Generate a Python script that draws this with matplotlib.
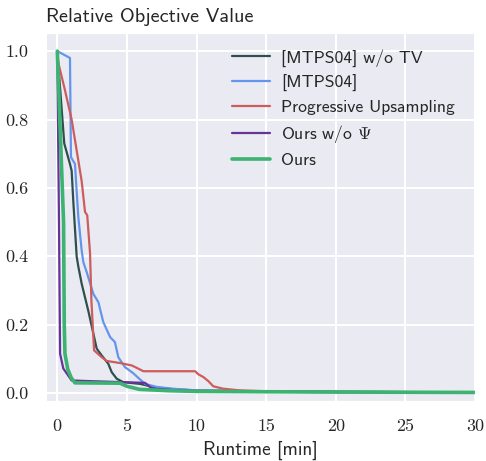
import matplotlib
matplotlib.use("Agg")
import matplotlib.pyplot as plt
import seaborn as sns

# runtime [min] / relative objective value per method
t_mtps_notv = [0, 0.5, 0.91, 1.03, 1.15, 1.39, 1.51, 1.75, 2.23, 2.59, 2.83, 3.19, 3.66,
               3.91, 4.27, 4.74, 5.94, 6.9, 8.3, 10, 15, 20, 30]
v_mtps_notv = [1.0, 0.73, 0.67, 0.65, 0.56, 0.40, 0.37, 0.32, 0.24, 0.174, 0.13, 0.11, 0.086,
               0.061, 0.042, 0.032, 0.027, 0.018, 0.011, 0.008, 0.005, 0.004, 0.002]

t_mtps = [0, 0.91, 0.98, 1.27, 1.39, 1.51, 1.75, 1.87, 2.11, 2.59, 2.95, 3.3, 3.79, 4.14,
          4.38, 4.86, 5.46, 5.94, 6.3, 7.14, 8.3, 10, 15, 20, 30]
v_mtps = [1.0, 0.98, 0.69, 0.67, 0.59, 0.515, 0.417, 0.383, 0.354, 0.29, 0.266, 0.208, 0.164,
          0.149, 0.105, 0.076, 0.058, 0.04, 0.027, 0.018, 0.013, 0.008, 0.005, 0.004, 0.002]

t_prog = [0.03, 0.55, 1.03, 1.51, 1.75, 1.99, 2.15, 2.35, 2.45, 2.64, 3.19, 3.55, 4.5, 5.34,
          5.7, 6.18, 9.9, 10.13, 10.49, 10.85, 11.2, 11.9, 13.1, 15.3, 20, 30]
v_prog = [0.973, 0.886, 0.80, 0.68, 0.62, 0.53, 0.52, 0.41, 0.27, 0.125, 0.105, 0.094, 0.088,
          0.081, 0.074, 0.064, 0.064, 0.055, 0.047, 0.035, 0.02, 0.013, 0.008, 0.005, 0.004, 0.002]

t_ours_nopsi = [0, 0.12, 0.2, 0.43, 1.03, 2.35, 6.3, 6.8, 8.3, 10, 15, 20, 30]
v_ours_nopsi = [1.0, 0.5, 0.115, 0.072, 0.037, 0.035, 0.030, 0.013, 0.009, 0.006, 0.004, 0.003, 0.002]

t_ours = [0, 0.45, 0.5, 0.55, 0.75, 1.0, 1.27, 4.5, 5.0, 5.9, 8, 10, 15, 20, 30]
v_ours = [1.0, 0.5, 0.2, 0.115, 0.07, 0.045, 0.03, 0.029, 0.02, 0.011, 0.007, 0.005, 0.004,
          0.003, 0.002]

labels = ["[MTPS04] w/o TV", "[MTPS04]", "Progressive Upsampling",
          r"Ours w/o $\Psi$", "Ours"]

sns.set_style("darkgrid")
plt.rcParams["font.family"] = "cmss10"
plt.rcParams["mathtext.fontset"] = "cm"
plt.rcParams["axes.unicode_minus"] = False
plt.rcParams["grid.linewidth"] = 1.5

fig = plt.figure(figsize=(4.86, 4.61), dpi=100)
ax = fig.add_axes([0.0947, 0.1302, 0.8827, 0.7982])

ax.plot(t_mtps_notv, v_mtps_notv, color="#2F4F4F", lw=1.6, label=labels[0])
ax.plot(t_mtps, v_mtps, color="#6495ED", lw=1.6, label=labels[1])
ax.plot(t_prog, v_prog, color="#CD5C5C", lw=1.6, label=labels[2])
ax.plot(t_ours_nopsi, v_ours_nopsi, color="#663399", lw=1.6, label=labels[3])
ax.plot(t_ours, v_ours, color="#3CB371", lw=2.6, label=labels[4])

ax.set_xlim(-0.81, 30)
ax.set_ylim(-0.023, 1.053)
ax.set_xticks([0, 5, 10, 15, 20, 25, 30])
ax.set_yticks([0.0, 0.2, 0.4, 0.6, 0.8, 1.0])
ax.set_yticklabels(["0.0", "0.2", "0.4", "0.6", "0.8", "1.0"])
for lab in ax.get_xticklabels() + ax.get_yticklabels():
    lab.set_fontfamily("cmr10")
    lab.set_fontsize(13)
ax.tick_params(axis="x", pad=9)
ax.tick_params(axis="y", pad=9)

ax.set_xlabel("Runtime [min]", fontsize=13.9, labelpad=5)
ax.set_title("Relative Objective Value", loc="left", fontsize=14.6, pad=8)
ax.legend(loc="upper right", frameon=False, fontsize=12.7, handlelength=2.15,
          handletextpad=0.62, bbox_to_anchor=(0.99, 1.0), labelspacing=0.45)

fig.savefig("out.png", dpi=100)
